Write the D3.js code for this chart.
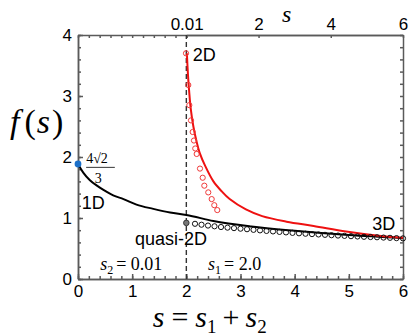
<!DOCTYPE html>
<html>
<head>
<meta charset="utf-8">
<script src="https://cdn.jsdelivr.net/npm/d3@7"></script>
<style>
  body { margin: 0; background: #fff; }
  .tick text { font-family: "Liberation Sans", Arial, Helvetica, sans-serif; font-size: 17px; fill: #000; }
  .frame path.domain, .frame line { stroke: #5a5a5a; stroke-width: 1.5; }
  .lbl { font-family: "Liberation Sans", Arial, Helvetica, sans-serif; font-size: 18px; fill: #000; }
  .math { font-family: "Liberation Serif", "Times New Roman", serif; fill: #000; }
</style>
</head>
<body>
<svg width="415" height="336"></svg>
<script>
"use strict";

// black solid curve (1D -> quasi-2D -> 3D)
const blackS = [0, 0.1, 0.22, 0.35, 0.47, 0.65, 0.84, 1.08, 1.39, 1.7, 2.0, 2.5, 3.2, 4.0, 5.0, 6.0];
const blackF = [1.886, 1.74, 1.62, 1.53, 1.46, 1.37, 1.31, 1.22, 1.15, 1.09, 1.05, 0.95, 0.86, 0.79, 0.72, 0.67];

// red solid curve (2D)
const redS = [2.01, 2.03, 2.05, 2.08, 2.13, 2.19, 2.25, 2.35, 2.5, 2.65, 2.8, 3.1, 3.4, 3.85, 4.35, 4.95, 5.55, 6.0];
const redF = [3.70, 3.35, 3.10, 2.80, 2.50, 2.25, 2.06, 1.85, 1.60, 1.44, 1.31, 1.14, 1.03, 0.94, 0.87, 0.78, 0.71, 0.675];

// red open circles
const redCircS = [1.994, 2.036, 2.055, 2.086, 2.117, 2.141, 2.165, 2.191, 2.252, 2.302, 2.332, 2.405, 2.468, 2.516, 2.571];
const redCircF = [3.70, 3.18, 2.85, 2.60, 2.41, 2.27, 2.14, 2.05, 1.81, 1.66, 1.53, 1.42, 1.31, 1.21, 1.13];

// black open circles
const grayCircS = [2.16, 2.28, 2.40, 2.52, 2.64, 2.76, 2.88, 3.00, 3.12, 3.24, 3.36, 3.48, 3.60, 3.72, 3.84, 3.96, 4.08,
    4.20, 4.32, 4.44, 4.56, 4.68, 4.80, 4.92, 5.04, 5.16, 5.28, 5.40, 5.52, 5.64, 5.76, 5.88, 6.00];
const grayCircF = [0.905, 0.89, 0.876, 0.864, 0.852, 0.842, 0.834, 0.825, 0.816, 0.806, 0.797, 0.788, 0.780, 0.772, 0.764, 0.756, 0.749,
    0.742, 0.736, 0.730, 0.724, 0.718, 0.712, 0.707, 0.702, 0.697, 0.692, 0.688, 0.684, 0.679, 0.675, 0.670, 0.666];

const startPoint = [0, 4 * Math.SQRT2 / 3];   // 4√2/3
const quasiPoint = [2.0, 0.92];

const xTicks = [0, 1, 2, 3, 4, 5, 6];
const yTicks = [0, 1, 2, 3, 4];
const topTicks = [0.01, 2, 4, 6];

const svg = d3.select("svg");

const x = d3.scaleLinear().domain([0, 6]).range([78, 403]);
const y = d3.scaleLinear().domain([0, 4]).range([279, 35]);
const xTop = d3.scaleLinear().domain([0, 6]).range([x(2), x(6)]);

const minorX = d3.range(0, 6.001, 0.2);
const minorY = d3.range(0, 4.001, 0.2);
const intFmt = d3.format("d");

// frame + ticks (inward)
const frame = svg.append("g").attr("class", "frame");

frame.append("g").attr("transform", `translate(0,${y(0)})`)
    .call(d3.axisBottom(x).tickValues(minorX).tickSizeInner(-3).tickSizeOuter(0).tickFormat(""));
frame.append("g").attr("transform", `translate(0,${y(0)})`)
    .call(d3.axisBottom(x).tickValues(xTicks).tickSizeInner(-5).tickSizeOuter(0).tickPadding(6).tickFormat(intFmt));

frame.append("g").attr("transform", `translate(${x(0)},0)`)
    .call(d3.axisLeft(y).tickValues(minorY).tickSizeInner(-3).tickSizeOuter(0).tickFormat(""));
frame.append("g").attr("transform", `translate(${x(0)},0)`)
    .call(d3.axisLeft(y).tickValues(yTicks).tickSizeInner(-5).tickSizeOuter(0).tickPadding(6).tickFormat(intFmt));

frame.append("g").attr("transform", `translate(${x(6)},0)`)
    .call(d3.axisRight(y).tickValues(minorY).tickSizeInner(-3).tickSizeOuter(0).tickFormat(""));

frame.append("g").attr("transform", `translate(0,${y(4)})`)
    .call(d3.axisTop(x).tickValues(minorX.filter(v => v < 1.99)).tickSizeInner(-3).tickSizeOuter(0).tickFormat(""));
frame.append("g").attr("transform", `translate(0,${y(4)})`)
    .call(d3.axisTop(xTop).tickValues(topTicks).tickSizeInner(-3).tickSizeOuter(0).tickPadding(5)
        .tickFormat(d => d === 0.01 ? "0.01" : intFmt(d)));

frame.selectAll(".tick text").attr("fill", "#000");

// dashed divider at s = 2
svg.append("line")
    .attr("x1", x(2)).attr("x2", x(2))
    .attr("y1", y(0)).attr("y2", y(4))
    .attr("stroke", "#333").attr("stroke-width", 1.4)
    .attr("stroke-dasharray", "5,3");

const line = d3.line().x(d => x(d[0])).y(d => y(d[1])).curve(d3.curveMonotoneX);

svg.append("path")
    .datum(blackS.map((s, i) => [s, blackF[i]]))
    .attr("d", line)
    .attr("fill", "none").attr("stroke", "#000").attr("stroke-width", 2);

svg.append("path")
    .datum(redS.map((s, i) => [s, redF[i]]))
    .attr("d", d3.line().x(d => x(d[0])).y(d => y(d[1])).curve(d3.curveCatmullRom))
    .attr("fill", "none").attr("stroke", "#ee1111").attr("stroke-width", 2);

svg.append("g").selectAll("circle")
    .data(redCircS.map((s, i) => [s, redCircF[i]]))
    .join("circle")
    .attr("cx", d => x(d[0])).attr("cy", d => y(d[1])).attr("r", 2.6)
    .attr("fill", "none").attr("stroke", "#f03a3a").attr("stroke-width", 1);

svg.append("g").selectAll("circle")
    .data(grayCircS.map((s, i) => [s, grayCircF[i]]))
    .join("circle")
    .attr("cx", d => x(d[0])).attr("cy", d => y(d[1])).attr("r", 2.6)
    .attr("fill", "none").attr("stroke", "#111").attr("stroke-width", 1);

svg.append("circle")
    .attr("cx", x(quasiPoint[0])).attr("cy", y(quasiPoint[1])).attr("r", 2.8)
    .attr("fill", "#777").attr("stroke", "#222").attr("stroke-width", 0.8);

svg.append("circle")
    .attr("cx", x(startPoint[0])).attr("cy", y(startPoint[1])).attr("r", 3.4)
    .attr("fill", "#1a6fc9");

// labels
svg.append("text").attr("class", "lbl").attr("x", x(0.07)).attr("y", y(1.14)).text("1D");
svg.append("text").attr("class", "lbl").attr("x", x(2.12)).attr("y", y(3.58)).text("2D");
svg.append("text").attr("class", "lbl").attr("x", x(1.05)).attr("y", y(0.56)).text("quasi-2D");
svg.append("text").attr("class", "lbl").attr("x", x(5.43)).attr("y", y(0.80)).text("3D");

// 4√2 / 3
const frac = svg.append("g").attr("class", "math").attr("font-size", 14);
frac.append("text").attr("x", x(0.15)).attr("y", y(1.9)).text("4√2");
frac.append("line")
    .attr("x1", x(0.15)).attr("x2", x(0.68))
    .attr("y1", y(1.83)).attr("y2", y(1.83))
    .attr("stroke", "#000").attr("stroke-width", 0.8);
frac.append("text").attr("x", x(0.375)).attr("y", y(1.57)).attr("text-anchor", "middle").text("3");

// s2 = 0.01 / s1 = 2.0
function subText(sx, sy, sub, rest) {
    const t = svg.append("text").attr("class", "math").attr("font-size", 18)
        .attr("x", sx).attr("y", sy);
    t.append("tspan").attr("font-style", "italic").text("s");
    t.append("tspan").attr("font-size", 12).attr("dy", 4).text(sub);
    t.append("tspan").attr("dy", -4).attr("dx", 3).text(rest);
}
subText(x(0.41), y(0.14), "2", "= 0.01");
subText(x(2.4), y(0.14), "1", "= 2.0");

// axis titles
const fs = svg.append("text").attr("class", "math").attr("font-size", 34)
    .attr("x", 10).attr("y", y(2.4));
fs.append("tspan").attr("font-style", "italic").text("f");
fs.append("tspan").attr("dx", 5).text("(");
fs.append("tspan").attr("font-style", "italic").attr("dx", 1).text("s");
fs.append("tspan").attr("dx", 2).text(")");

svg.append("text").attr("class", "math").attr("font-size", 24).attr("font-style", "italic")
    .attr("x", xTop(2.65)).attr("y", 22).text("s");

const bt = svg.append("text").attr("class", "math").attr("font-size", 30)
    .attr("x", x(1.38)).attr("y", 327);
bt.append("tspan").attr("font-style", "italic").text("s");
bt.append("tspan").attr("dx", 7).text("=");
bt.append("tspan").attr("font-style", "italic").attr("dx", 7).text("s");
bt.append("tspan").attr("font-size", 19).attr("dy", 6).text("1");
bt.append("tspan").attr("dy", -6).attr("dx", 6).text("+");
bt.append("tspan").attr("font-style", "italic").attr("dx", 6).text("s");
bt.append("tspan").attr("font-size", 19).attr("dy", 6).text("2");
</script>
</body>
</html>
